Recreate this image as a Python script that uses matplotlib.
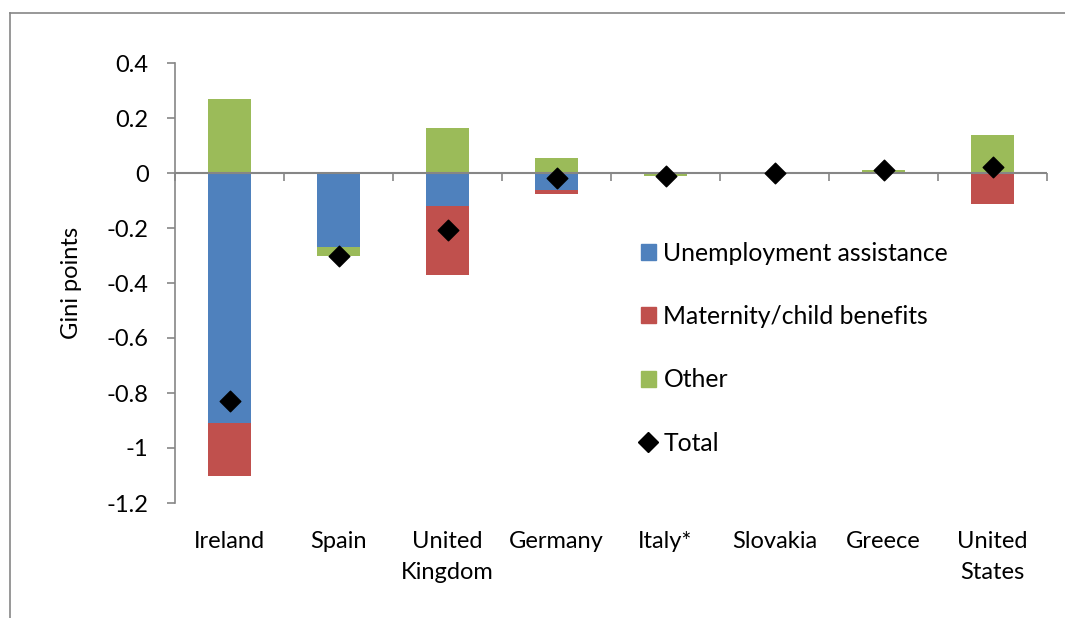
import numpy as np
import matplotlib.pyplot as plt
from matplotlib.lines import Line2D

plt.rcParams['font.family'] = ['Lato', 'DejaVu Sans']

countries = ["Ireland", "Spain", "United\nKingdom", "Germany", "Italy*",
             "Slovakia", "Greece", "United\nStates"]
unemployment = [-0.91, -0.27, -0.12, -0.062, 0.0, 0.0, 0.0, 0.0]
maternity = [-0.19, 0.0, -0.25, -0.014, 0.0, 0.0, 0.0, -0.113]
other = [0.27, -0.03, 0.164, 0.055, -0.01, 0.0, 0.01, 0.138]
total = [-0.83, -0.30, -0.207, -0.018, -0.01, 0.0, 0.01, 0.022]

blue = "#4F81BD"
red = "#C0504D"
green = "#9BBB59"
grey = "#868686"
fs = 17

fig = plt.figure(figsize=(10.65, 6.18), dpi=100)
ax = fig.add_axes([175 / 1065, 1 - 503 / 618, 872 / 1065, 440 / 618])

x = np.arange(len(countries))
w = 0.4

# stack negatives and positives separately
pos = np.zeros(len(x))
neg = np.zeros(len(x))
for vals, col, lab in [(unemployment, blue, "Unemployment assistance"),
                       (maternity, red, "Maternity/child benefits"),
                       (other, green, "Other")]:
    vals = np.array(vals)
    bottom = np.where(vals >= 0, pos, neg)
    ax.bar(x, vals, w, bottom=bottom, color=col, label=lab, zorder=2)
    pos = pos + np.where(vals >= 0, vals, 0)
    neg = neg + np.where(vals < 0, vals, 0)

ax.scatter(x, total, marker="D", s=110, color="black", zorder=4, label="Total")

ax.set_xlim(-0.5, len(x) - 0.5)
ax.set_ylim(-1.2, 0.4)
ax.set_yticks(np.arange(-1.2, 0.41, 0.2))
ax.set_yticklabels(["-1.2", "-1", "-0.8", "-0.6", "-0.4", "-0.2", "0", "0.2", "0.4"])
ax.tick_params(axis="y", direction="out", length=6, color=grey, width=1.2,
               labelsize=fs, pad=13)
ax.set_ylabel("Gini points", fontsize=fs, labelpad=18)

for s in ["top", "right", "bottom"]:
    ax.spines[s].set_visible(False)
ax.spines["left"].set_color(grey)
ax.spines["left"].set_linewidth(1.2)

# category labels at the bottom
ax.set_xticks(x)
ax.set_xticklabels(countries, fontsize=fs, linespacing=1.62, va="top")
ax.tick_params(axis="x", length=0, pad=20)

# zero line with boundary ticks
ax.axhline(0, color=grey, lw=1.5, zorder=3)
sec = ax.secondary_xaxis(1.2 / 1.6)
sec.set_xticks(np.arange(-0.5, len(x), 1.0))
sec.set_xticklabels([])
sec.tick_params(direction="in", length=6, color=grey, width=1.2)
sec.spines["bottom"].set_visible(False)
sec.spines["top"].set_visible(False)

handles = [plt.Rectangle((0, 0), 1, 1, color=blue),
           plt.Rectangle((0, 0), 1, 1, color=red),
           plt.Rectangle((0, 0), 1, 1, color=green),
           Line2D([], [], marker="D", color="black", ls="", markersize=10)]
ax.legend(handles, ["Unemployment assistance", "Maternity/child benefits", "Other", "Total"],
          loc="center left", bbox_to_anchor=(0.534, 0.352), frameon=False, fontsize=17.8,
          borderpad=0, borderaxespad=0,
          labelspacing=1.63, handlelength=0.62, handleheight=0.62, handletextpad=0.3)

# chart area border (left and top)
fig.add_artist(Line2D([10 / 1065, 10 / 1065], [0, 1 - 13 / 618], transform=fig.transFigure,
                      color=grey, lw=1.2))
fig.add_artist(Line2D([10 / 1065, 1], [1 - 13 / 618, 1 - 13 / 618], transform=fig.transFigure,
                      color=grey, lw=1.2))

fig.savefig("out.png", dpi=100)
